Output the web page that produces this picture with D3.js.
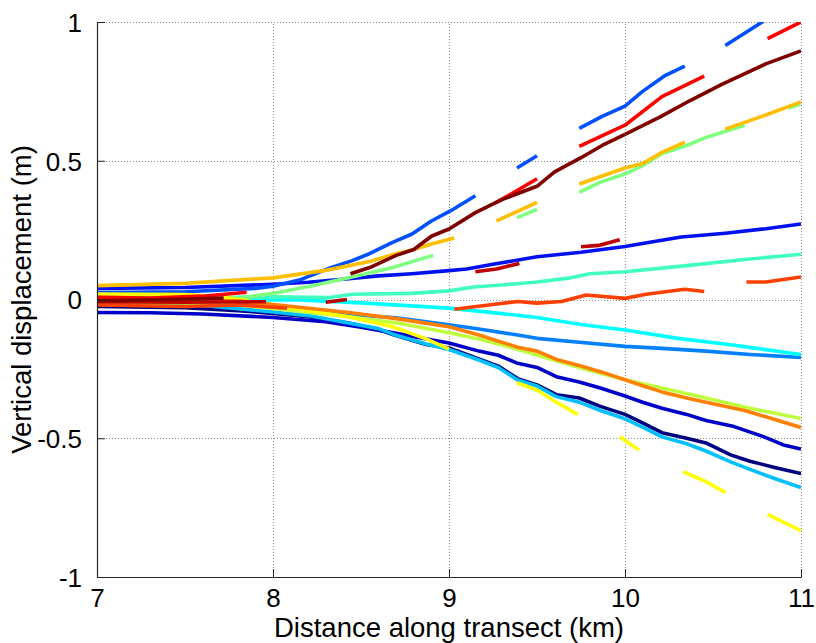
<!DOCTYPE html>
<html>
<head>
<meta charset="utf-8">
<script src="https://cdn.jsdelivr.net/npm/d3@7"></script>
<style>
  html, body { margin: 0; padding: 0; background: #fff; }
  svg { display: block; font-family: "Liberation Sans", Arial, sans-serif; }
</style>
</head>
<body>
<svg id="chart" width="816" height="643"></svg>
<script>
// Vertical displacement profiles along the transect, one line per epoch.
// Each profile is a list of [distance km, displacement m]; null marks a gap.
const xTicks = [7, 8, 9, 10, 11];
const yTicks = [-1, -0.5, 0, 0.5, 1];
const xLabel = "Distance along transect (km)";
const yLabel = "Vertical displacement (m)";

const navy = [[7,-0.025],[7.5,-0.03],[7.8,-0.04],[8.0,-0.05],[8.2,-0.062],[8.43,-0.085],[8.6,-0.108],[8.68,-0.126],[8.87,-0.162],[9.0,-0.175],[9.17,-0.214],[9.28,-0.24],[9.39,-0.285],[9.5,-0.308],[9.61,-0.343],[9.74,-0.355],[9.86,-0.385],[10.0,-0.414],[10.1,-0.445],[10.21,-0.48],[10.35,-0.5],[10.46,-0.517],[10.6,-0.56],[10.71,-0.583],[10.85,-0.605],[11.0,-0.627]];
const mediumBlue = [[7,-0.047],[7.3,-0.048],[7.6,-0.052],[8.0,-0.065],[8.3,-0.08],[8.5,-0.1],[8.7,-0.122],[8.85,-0.14],[9.0,-0.157],[9.17,-0.186],[9.28,-0.201],[9.39,-0.23],[9.5,-0.245],[9.61,-0.278],[9.74,-0.297],[9.86,-0.319],[10.0,-0.348],[10.1,-0.37],[10.21,-0.392],[10.35,-0.414],[10.46,-0.436],[10.62,-0.458],[10.79,-0.495],[10.9,-0.524],[11,-0.539]];
const royalBlue = [[7,0.04],[7.5,0.043],[8.0,0.055],[8.2,0.062],[8.43,0.075],[8.6,0.085],[8.79,0.093],[9.0,0.104],[9.1,0.11],[9.25,0.127],[9.5,0.154],[9.75,0.17],[10.0,0.191],[10.15,0.207],[10.32,0.225],[10.57,0.239],[10.8,0.255],[11,0.272]];
const lightBlue = [[7,0.025],[7.5,0.028],[7.9,0.04],[8.0,0.048],[8.15,0.07],[8.32,0.113],[8.45,0.14],[8.54,0.163],[8.67,0.203],[8.79,0.236],[8.9,0.283],[9.01,0.32],[9.15,0.374],null,[9.386,0.474],[9.5,0.518],null,[9.74,0.617],[9.87,0.66],[10.0,0.697],[10.1,0.75],[10.23,0.808],[10.34,0.841],null,[10.57,0.915],[10.78,1.0],[10.85,1.04]];
const azure = [[7,0.01],[7.4,0.005],[7.8,-0.01],[8.0,-0.03],[8.43,-0.054],[8.7,-0.066],[9.0,-0.091],[9.17,-0.106],[9.39,-0.128],[9.5,-0.14],[9.74,-0.154],[10.0,-0.169],[10.21,-0.176],[10.46,-0.186],[10.71,-0.198],[11,-0.209]];
const skyBlue = [[7,-0.01],[7.5,-0.015],[8.0,-0.045],[8.2,-0.058],[8.43,-0.085],[8.6,-0.105],[8.68,-0.125],[8.87,-0.16],[9.0,-0.18],[9.17,-0.218],[9.28,-0.245],[9.39,-0.29],[9.5,-0.312],[9.61,-0.35],[9.74,-0.37],[9.86,-0.4],[10.0,-0.43],[10.1,-0.46],[10.21,-0.495],[10.35,-0.52],[10.46,-0.546],[10.6,-0.585],[10.71,-0.612],[10.85,-0.645],[11,-0.678]];
const cyan = [[7,0.0],[7.5,0.0],[8.0,-0.002],[8.15,-0.002],[8.5,-0.012],[9.0,-0.031],[9.29,-0.05],[9.5,-0.065],[9.75,-0.09],[10.0,-0.11],[10.3,-0.14],[10.6,-0.163],[11,-0.198]];
const aquamarine = [[7,0.005],[7.5,0.005],[8.0,0.01],[8.32,0.007],[8.45,0.019],[8.79,0.022],[9.0,0.031],[9.14,0.045],[9.3,0.052],[9.5,0.063],[9.69,0.078],[9.8,0.093],[10.0,0.1],[10.35,0.122],[10.68,0.144],[11,0.163]];
const lightGreen = [[7,0.0],[7.5,0.0],[7.8,0.005],[8.0,0.022],[8.21,0.048],[8.43,0.078],[8.68,0.115],[8.91,0.159],null,[9.386,0.295],[9.5,0.325],null,[9.74,0.386],[9.86,0.423],[10.0,0.452],[10.1,0.482],[10.21,0.526],[10.35,0.555],[10.46,0.584],[10.68,0.628],null,[10.93,0.69],[11,0.705]];
const yellowGreen = [[7,-0.01],[7.5,-0.012],[7.8,-0.02],[8.0,-0.032],[8.43,-0.062],[8.7,-0.084],[9.0,-0.12],[9.17,-0.142],[9.39,-0.179],[9.5,-0.2],[9.74,-0.245],[10.0,-0.289],[10.21,-0.319],[10.46,-0.355],[10.71,-0.392],[11,-0.429]];
const yellow = [[7,0.02],[7.5,0.018],[7.7,0.01],[7.85,-0.005],[8.0,-0.02],[8.2,-0.04],[8.43,-0.062],[8.68,-0.098],[8.87,-0.142],[9.0,-0.179],null,[9.386,-0.3],[9.5,-0.326],[9.61,-0.37],[9.73,-0.414],null,[9.97,-0.495],[10.08,-0.542],null,[10.33,-0.62],[10.46,-0.656],[10.57,-0.696],null,[10.81,-0.774],[11,-0.833]];
const amber = [[7,0.05],[7.5,0.058],[8.0,0.078],[8.3,0.105],[8.55,0.137],[8.7,0.165],[8.8,0.18],[8.9,0.2],[9.03,0.222],null,[9.27,0.283],[9.5,0.35],null,[9.74,0.416],[10.0,0.474],[10.1,0.49],[10.21,0.53],[10.34,0.567],null,[10.57,0.614],[10.8,0.665],[11,0.712]];
const orange = [[7,-0.01],[7.5,-0.005],[7.8,-0.005],[8.0,-0.018],[8.43,-0.047],[8.7,-0.069],[9.0,-0.098],[9.17,-0.128],[9.39,-0.172],[9.5,-0.186],[9.61,-0.216],[9.74,-0.238],[9.86,-0.26],[10.0,-0.289],[10.1,-0.311],[10.21,-0.333],[10.35,-0.355],[10.46,-0.37],[10.68,-0.4],[11,-0.461]];
const redOrange = [[7,-0.02],[7.5,-0.025],[7.8,-0.02],[8.08,-0.031],null,[9.03,-0.035],[9.25,-0.018],[9.39,-0.007],[9.5,-0.013],[9.64,-0.007],[9.78,0.016],[10.0,0.004],[10.12,0.019],[10.34,0.037],[10.45,0.029],null,[10.69,0.063],[10.8,0.063],[11,0.081]];
const red = [[7,0.008],[7.3,0.005],[7.6,0.012],[7.85,0.026],null,[9.27,0.35],[9.38,0.39],[9.5,0.435],null,[9.74,0.552],[10.0,0.628],[10.21,0.731],[10.45,0.805],null,[10.81,0.94],[11,1.0]];
const darkRed = [[7,-0.008],[7.5,-0.01],[7.96,-0.008],null,[8.3,-0.01],[8.42,0.0],null,[9.15,0.1],[9.27,0.11],[9.4,0.13],null,[9.75,0.19],[9.85,0.195],[9.97,0.215]];
const maroon = [[7,-0.005],[7.4,0.0],[7.72,0.005],null,[8.44,0.093],[8.55,0.115],[8.7,0.159],[8.8,0.18],[8.9,0.228],[9.0,0.254],[9.15,0.313],[9.3,0.36],[9.5,0.408],[9.6,0.46],[9.75,0.511],[9.87,0.555],[10.0,0.595],[10.2,0.658],[10.37,0.717],[10.55,0.775],[10.8,0.849],[11,0.896]];

const profiles = [navy, mediumBlue, royalBlue, lightBlue, azure, skyBlue, cyan, aquamarine,
                  lightGreen, yellowGreen, yellow, amber, orange, redOrange, red, darkRed, maroon];
const colors = ["#000080", "#0000C8", "#0010F0", "#0050FF", "#0080FF", "#00BFFF", "#00FFFF", "#40FFBF",
                "#80FF80", "#BFFF40", "#FFFF00", "#FFBF00", "#FF8000", "#FF4000", "#FF0000", "#BF0000", "#800000"];

const svg = d3.select("#chart");
const margin = { left: 97, right: 15, top: 22, bottom: 66 };
const W = 816, H = 643;
const x = d3.scaleLinear().domain([7, 11]).range([margin.left, W - margin.right]);
const y = d3.scaleLinear().domain([-1, 1]).range([H - margin.bottom, margin.top]);

// dotted grid
const grid = svg.append("g").attr("stroke", "#8c8c8c").attr("stroke-width", 1)
  .attr("stroke-dasharray", "1,2").attr("shape-rendering", "crispEdges");
grid.selectAll("line.gx").data(xTicks).join("line").attr("class", "gx")
  .attr("x1", d => Math.round(x(d)) + 0.5).attr("x2", d => Math.round(x(d)) + 0.5)
  .attr("y1", y(-1)).attr("y2", y(1));
grid.selectAll("line.gy").data(yTicks).join("line").attr("class", "gy")
  .attr("y1", d => Math.round(y(d)) + 0.5).attr("y2", d => Math.round(y(d)) + 0.5)
  .attr("x1", x(7)).attr("x2", x(11));

// profiles
svg.append("defs").append("clipPath").attr("id", "plotArea")
  .append("rect").attr("x", x(7)).attr("y", y(1)).attr("width", x(11) - x(7)).attr("height", y(-1) - y(1));

const line = d3.line().defined(d => d !== null).x(d => x(d[0])).y(d => y(d[1]));
svg.append("g").attr("clip-path", "url(#plotArea)")
  .selectAll("path").data(profiles).join("path")
  .attr("d", line)
  .attr("fill", "none")
  .attr("stroke", (d, i) => colors[i])
  .attr("stroke-width", 3.6)
  .attr("stroke-linejoin", "round");

// axes: ticks point inward, left and bottom only
const xAxis = d3.axisBottom(x).tickValues(xTicks).tickSizeInner(-8).tickSizeOuter(0).tickPadding(12)
  .tickFormat(d3.format("d"));
const yAxis = d3.axisLeft(y).tickValues(yTicks).tickSizeInner(-8).tickSizeOuter(0).tickPadding(15)
  .tickFormat(d => d === 0 ? "0" : String(d));

const gx = svg.append("g").attr("transform", `translate(0,${y(-1)})`).call(xAxis);
const gy = svg.append("g").attr("transform", `translate(${x(7)},0)`).call(yAxis);
[gx, gy].forEach(g => {
  g.attr("font-family", null);
  g.select(".domain").attr("stroke", "#262626").attr("stroke-width", 1.2);
  g.selectAll(".tick line").attr("stroke", "#262626");
  g.selectAll(".tick text").attr("fill", "#000").style("font-size", "26px")
    .style("font-family", "'Liberation Sans', Arial, sans-serif");
});
gx.selectAll(".tick text").attr("dy", "0.71em");
gy.selectAll(".tick text").attr("dy", "0.36em");

// axis titles
svg.append("text").attr("x", (x(7) + x(11)) / 2).attr("y", 637)
  .attr("text-anchor", "middle").style("font-size", "27.5px").text(xLabel);
svg.append("text").attr("transform", `translate(31,${(y(-1) + y(1)) / 2}) rotate(-90)`)
  .attr("text-anchor", "middle").style("font-size", "27.5px").text(yLabel);
</script>
</body>
</html>
